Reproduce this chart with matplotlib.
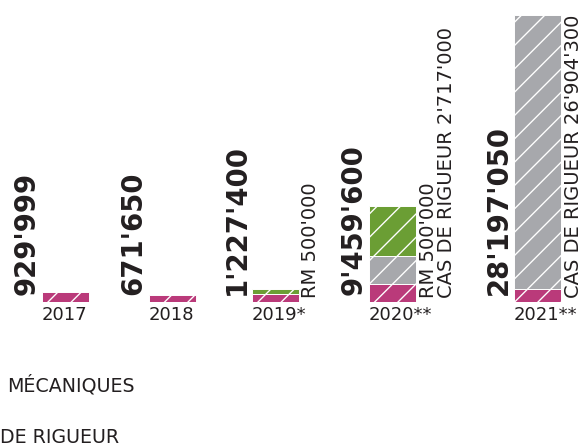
import numpy as np
import matplotlib
matplotlib.use('Agg')
import matplotlib.pyplot as plt

# data
years = ['2017', '2018', '2019*', '2020**', '2021**']
totals = ["929'999", "671'650", "1'227'400", "9'459'600", "28'197'050"]
aides = [929999, 671650, 727400, 1742600, 1292750]        # pink
rigueur = [0, 0, 0, 2717000, 26904300]                     # grey
remontees = [0, 0, 500000, 5000000, 0]                     # green
notes = [[], [], ["RM 500'000"],
         ["RM 500'000", "CAS DE RIGUEUR 2'717'000"],
         ["CAS DE RIGUEUR 26'904'300"]]
legend_labels = ['MÉCANIQUES', 'DE RIGUEUR']

DPI = 140
W, H = 583, 447


def pt(px):
    return px * 72 / DPI


pink = '#BA3A7A'
grey = '#A7A8AC'
green = '#6B9E34'
ink = '#231F20'

plt.rcParams['font.family'] = 'DejaVu Sans'
plt.rcParams['hatch.linewidth'] = 0.7

fig = plt.figure(figsize=(W / DPI, H / DPI), dpi=DPI)
ax = fig.add_axes([0, 145.3 / H, 1, 286.7 / H])
ax.set_xlim(0, W)
ax.set_ylim(0, aides[-1] + rigueur[-1] + remontees[-1])
ax.axis('off')

# layout: bar centres in pixel units (uneven gaps like the original)
x = np.array([65.5, 172, 275, 392.5, 537.5])
bw = 47

bottom = np.zeros(len(years))
for vals, col in [(aides, pink), (rigueur, grey), (remontees, green)]:
    vals = np.array(vals, dtype=float)
    m = vals > 0
    ax.bar(x[m], vals[m], bw, bottom=bottom[m], color=col,
           edgecolor='white', linewidth=0.5, hatch='//')
    bottom += vals

for xi, tot, yr in zip(x, totals, years):
    # big total, rotated, left of the bar
    ax.annotate(tot, (xi - bw / 2, 0), xytext=(-7, 6.7),
                textcoords='offset pixels', rotation=90,
                rotation_mode='anchor', ha='left', va='baseline',
                fontsize=pt(27.5), fontweight='bold', color=ink,
                annotation_clip=False)
    # year under the bar
    ax.annotate(yr, (xi - bw / 2, 0), xytext=(0, -4),
                textcoords='offset pixels', ha='left', va='top',
                fontsize=pt(18), color=ink, annotation_clip=False)

for xi, ns in zip(x, notes):
    for j, n in enumerate(ns):
        ax.annotate(n, (xi + bw / 2, 0), xytext=(18 + 18 * j, 3.7),
                    textcoords='offset pixels', rotation=90,
                    rotation_mode='anchor', ha='left', va='baseline',
                    fontsize=pt(19.5), color=ink, annotation_clip=False)

# legend text (only the visible part at the left edge)
fig.text(7 / W, (H - 392) / H, legend_labels[0], ha='left',
         va='baseline', fontsize=pt(19), color=ink)
fig.text(0, (H - 443) / H, legend_labels[1], ha='left',
         va='baseline', fontsize=pt(19), color=ink)

fig.savefig('out.png', dpi=DPI)
